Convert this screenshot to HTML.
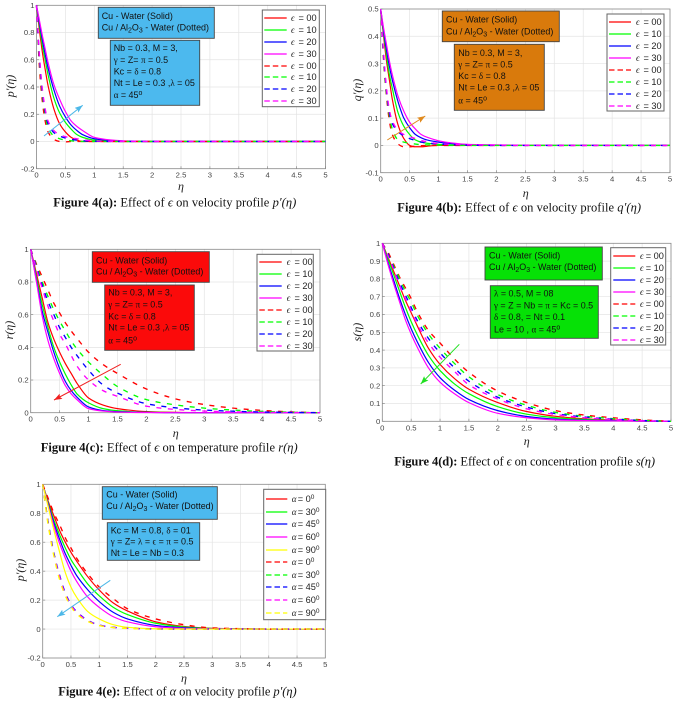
<!DOCTYPE html>
<html lang="en">
<head>
<meta charset="utf-8">
<title>Figure 4 profiles</title>
<style>
html,body{margin:0;padding:0;background:#fff;width:676px;height:702px;overflow:hidden}
svg{position:absolute;left:0;top:0;filter:blur(.35px)}
text{font-family:"Liberation Sans",sans-serif}
.box text{font-size:8.95px;fill:#111}
.box rect{stroke:#444;stroke-width:.9}
.s{font-family:"Liberation Serif",serif}
.cap{font-family:"Liberation Serif",serif;font-size:12.5px;fill:#111}
.sub{font-size:7px}
</style>
</head>
<body>
<svg xmlns="http://www.w3.org/2000/svg" width="676" height="702" viewBox="0 0 676 702">
<defs>
<marker id="ah-sky" markerWidth="9" markerHeight="7" refX="8" refY="3" orient="auto" markerUnits="userSpaceOnUse"><path d="M0 0L8 3L0 6L1.5 3Z" fill="#4db8e8"/></marker>
<marker id="ah-orange" markerWidth="9" markerHeight="7" refX="8" refY="3" orient="auto" markerUnits="userSpaceOnUse"><path d="M0 0L8 3L0 6L1.5 3Z" fill="#e08a1e"/></marker>
<marker id="ah-red" markerWidth="9" markerHeight="7" refX="8" refY="3" orient="auto" markerUnits="userSpaceOnUse"><path d="M0 0L8 3L0 6L1.5 3Z" fill="#f02020"/></marker>
<marker id="ah-green" markerWidth="9" markerHeight="7" refX="8" refY="3" orient="auto" markerUnits="userSpaceOnUse"><path d="M0 0L8 3L0 6L1.5 3Z" fill="#20e020"/></marker>
</defs>

<g id="plot-a"></g>
<g id="plot-b"></g>
<g id="plot-c"></g>
<g id="plot-d"></g>
<g id="plot-e"></g>

<!-- Panel a annotations -->
<g class="box">
<rect x="98.3" y="7.3" width="116" height="31" fill="#4cb9ee"/>
<text x="101.7" y="19">Cu - Water (Solid)</text>
<text x="101.7" y="30.7">Cu / Al<tspan class="sub" dy="2">2</tspan><tspan dy="-2">O</tspan><tspan class="sub" dy="2">3</tspan><tspan dy="-2"> - Water (Dotted)</tspan></text>
</g>
<g class="box">
<rect x="110.3" y="40.3" width="89.4" height="65" fill="#4cb9ee"/>
<text x="113.7" y="51">Nb = 0.3,  M = 3,</text>
<text x="113.7" y="63"><tspan class="s">γ</tspan> = Z= <tspan class="s">π</tspan> = 0.5</text>
<text x="113.7" y="74.7">Kc = <tspan class="s">δ</tspan> = 0.8</text>
<text x="113.7" y="86">Nt = Le = 0.3 ,<tspan class="s">λ</tspan> = 05</text>
<text x="113.7" y="98"><tspan class="s">α</tspan> = 45<tspan class="sub" dy="-3">o</tspan></text>
</g>
<line x1="44" y1="136" x2="82.7" y2="105.3" stroke="#4db8e8" stroke-width="1" marker-end="url(#ah-sky)"/>

<!-- Panel b annotations -->
<g class="box">
<rect x="442.3" y="11" width="117" height="30.7" fill="#d97a0c"/>
<text x="446" y="22.7">Cu - Water (Solid)</text>
<text x="446" y="34.3">Cu / Al<tspan class="sub" dy="2">2</tspan><tspan dy="-2">O</tspan><tspan class="sub" dy="2">3</tspan><tspan dy="-2"> - Water (Dotted)</tspan></text>
</g>
<g class="box">
<rect x="454.3" y="44.3" width="90" height="66" fill="#d97a0c"/>
<text x="458.3" y="56">Nb = 0.3,  M = 3,</text>
<text x="458.3" y="67.3"><tspan class="s">γ</tspan> = Z= <tspan class="s">π</tspan> = 0.5</text>
<text x="458.3" y="79">Kc = <tspan class="s">δ</tspan> = 0.8</text>
<text x="458.3" y="90.7">Nt = Le = 0.3 ,<tspan class="s">λ</tspan> = 05</text>
<text x="458.3" y="103.3"><tspan class="s">α</tspan> = 45<tspan class="sub" dy="-3">o</tspan></text>
</g>
<line x1="387.3" y1="140" x2="425.3" y2="116" stroke="#e08a1e" stroke-width="1" marker-end="url(#ah-orange)"/>

<!-- Panel c annotations -->
<g class="box">
<rect x="92.3" y="251.7" width="117" height="30.6" fill="#fb0a0a"/>
<text x="96" y="263.3">Cu - Water (Solid)</text>
<text x="96" y="274.3">Cu / Al<tspan class="sub" dy="2">2</tspan><tspan dy="-2">O</tspan><tspan class="sub" dy="2">3</tspan><tspan dy="-2"> - Water (Dotted)</tspan></text>
</g>
<g class="box">
<rect x="104.7" y="285" width="89.6" height="65.3" fill="#fb0a0a"/>
<text x="108.3" y="295.7">Nb = 0.3,  M = 3,</text>
<text x="108.3" y="307.7"><tspan class="s">γ</tspan> = Z= <tspan class="s">π</tspan> = 0.5</text>
<text x="108.3" y="319.3">Kc = <tspan class="s">δ</tspan> = 0.8</text>
<text x="108.3" y="330.7">Nt = Le = 0.3 ,<tspan class="s">λ</tspan> = 05</text>
<text x="108.3" y="343.3"><tspan class="s">α</tspan> = 45<tspan class="sub" dy="-3">o</tspan></text>
</g>
<line x1="120.7" y1="364.3" x2="54" y2="400" stroke="#f02020" stroke-width="1" marker-end="url(#ah-red)"/>

<!-- Panel d annotations -->
<g class="box">
<rect x="485" y="247" width="117.3" height="33" fill="#06e106"/>
<text x="489" y="258.3">Cu - Water (Solid)</text>
<text x="489" y="270">Cu / Al<tspan class="sub" dy="2">2</tspan><tspan dy="-2">O</tspan><tspan class="sub" dy="2">3</tspan><tspan dy="-2"> - Water (Dotted)</tspan></text>
</g>
<g class="box">
<rect x="490.3" y="285.7" width="108" height="52.6" fill="#06e106"/>
<text x="494" y="296.7"><tspan class="s">λ</tspan> = 0.5,  M = 08</text>
<text x="494" y="308.3"><tspan class="s">γ</tspan> = Z = Nb = <tspan class="s">π</tspan> = Kc = 0.5</text>
<text x="494" y="320"><tspan class="s">δ</tspan> = 0.8, = Nt = 0.1</text>
<text x="494" y="332.7">Le = 10 , <tspan class="s">α</tspan> = 45<tspan class="sub" dy="-3">o</tspan></text>
</g>
<line x1="459.3" y1="344.3" x2="420.7" y2="384" stroke="#20e020" stroke-width="1" marker-end="url(#ah-green)"/>

<!-- Panel e annotations -->
<g class="box">
<rect x="102.3" y="486.7" width="115" height="32.6" fill="#4cb9ee"/>
<text x="106.3" y="497.3">Cu - Water (Solid)</text>
<text x="106.3" y="509">Cu / Al<tspan class="sub" dy="2">2</tspan><tspan dy="-2">O</tspan><tspan class="sub" dy="2">3</tspan><tspan dy="-2"> - Water (Dotted)</tspan></text>
</g>
<g class="box">
<rect x="107.3" y="522.7" width="92.4" height="37.6" fill="#4cb9ee"/>
<text x="110.7" y="533.3">Kc = M = 0.8, <tspan class="s">δ</tspan> = 01</text>
<text x="110.7" y="544.7"><tspan class="s">γ</tspan> = Z= <tspan class="s">λ</tspan> = <tspan class="s">ϵ</tspan> = <tspan class="s">π</tspan> = 0.5</text>
<text x="110.7" y="556">Nt = Le = Nb = 0.3</text>
</g>
<line x1="110.3" y1="580.3" x2="57.3" y2="616.7" stroke="#4db8e8" stroke-width="1" marker-end="url(#ah-sky)"/>

<!-- Captions -->
<text class="cap" x="53.3" y="206.7" textLength="243" lengthAdjust="spacing"><tspan font-weight="bold">Figure 4(a):</tspan> Effect of <tspan font-style="italic">ϵ</tspan> on velocity profile <tspan font-style="italic">p′(η)</tspan></text>
<text class="cap" x="397.3" y="211.7" textLength="243.7" lengthAdjust="spacing"><tspan font-weight="bold">Figure 4(b):</tspan> Effect of <tspan font-style="italic">ϵ</tspan> on velocity profile <tspan font-style="italic">q′(η)</tspan></text>
<text class="cap" x="40.7" y="451.7" textLength="257" lengthAdjust="spacing"><tspan font-weight="bold">Figure 4(c):</tspan> Effect of <tspan font-style="italic">ϵ</tspan> on temperature profile <tspan font-style="italic">r(η)</tspan></text>
<text class="cap" x="394.3" y="465.7" textLength="260.7" lengthAdjust="spacing"><tspan font-weight="bold">Figure 4(d):</tspan> Effect of <tspan font-style="italic">ϵ</tspan> on concentration profile <tspan font-style="italic">s(η)</tspan></text>
<text class="cap" x="58.3" y="695.7" textLength="238.4" lengthAdjust="spacing"><tspan font-weight="bold">Figure 4(e):</tspan> Effect of <tspan font-style="italic">α</tspan> on velocity profile <tspan font-style="italic">p′(η)</tspan></text>
</svg>

<script>
// ---------- Data ----------
const xTickLabels = [0, 0.5, 1, 1.5, 2, 2.5, 3, 3.5, 4, 4.5, 5];
const yTicksA = [-0.2, 0, 0.2, 0.4, 0.6, 0.8, 1];
const yTicksB = [-0.1, 0, 0.1, 0.2, 0.3, 0.4, 0.5];
const yTicksC = [0, 0.2, 0.4, 0.6, 0.8, 1];
const yTicksD = [0, 0.1, 0.2, 0.3, 0.4, 0.5, 0.6, 0.7, 0.8, 0.9, 1];
const yTicksE = [-0.2, 0, 0.2, 0.4, 0.6, 0.8, 1];

const epsLabels = ['00', '10', '20', '30'];
const alphaLabels = ['0', '30', '45', '60', '90'];

const etaAB = [0, .05, .1, .15, .2, .3, .4, .5, .6, .7, .8, 1, 1.2, 1.5, 2, 3, 5];
const aSolid00 = [1, .82, .66, .53, .41, .24, .13, .07, .03, .01, 0, 0, 0, 0, 0, 0, 0];
const aSolid10 = [1, .85, .71, .6, .49, .32, .21, .14, .09, .05, .03, .01, .005, 0, 0, 0, 0];
const aSolid20 = [1, .87, .75, .64, .54, .38, .26, .18, .12, .08, .05, .02, .01, .003, 0, 0, 0];
const aSolid30 = [1, .89, .78, .68, .58, .42, .31, .22, .15, .11, .08, .03, .015, .005, 0, 0, 0];
const aDash00 = [1, .55, .3, .15, .07, .015, 0, -.003, 0, 0, 0, 0, 0, 0, 0, 0, 0];
const aDash10 = [1, .6, .35, .2, .1, .04, .02, .01, .005, .002, 0, 0, 0, 0, 0, 0, 0];
const aDash20 = [1, .62, .37, .22, .13, .065, .04, .025, .015, .01, .005, .002, 0, 0, 0, 0, 0];
const aDash30 = [1, .64, .39, .24, .15, .08, .05, .035, .025, .02, .012, .005, .002, 0, 0, 0, 0];

const bSolid00 = [.5, .4, .31, .24, .17, .075, .025, 0, -.005, -.005, -.003, 0, 0, 0, 0, 0, 0];
const bSolid10 = [.5, .41, .33, .26, .21, .12, .07, .04, .02, .012, .008, .004, .002, .001, 0, 0, 0];
const bSolid20 = [.5, .42, .35, .29, .24, .16, .1, .065, .04, .028, .02, .012, .007, .003, .001, 0, 0];
const bSolid30 = [.5, .43, .37, .31, .26, .18, .125, .085, .06, .04, .03, .017, .01, .004, .002, 0, 0];
const bDash00 = [.5, .31, .18, .09, .04, .005, -.005, -.005, -.003, -.001, 0, 0, 0, 0, 0, 0, 0];
const bDash10 = [.5, .32, .19, .11, .06, .02, .012, .008, .005, .003, .002, .001, 0, 0, 0, 0, 0];
const bDash20 = [.5, .33, .2, .12, .08, .05, .035, .025, .018, .012, .009, .005, .003, .001, 0, 0, 0];
const bDash30 = [.5, .34, .21, .13, .09, .055, .04, .032, .025, .018, .013, .007, .004, .002, .001, 0, 0];

const etaC = [0, .1, .2, .3, .4, .5, .6, .7, .8, 1, 1.25, 1.5, 2, 2.5, 3, 3.5, 4, 4.5, 5];
const cSolid00 = [1, .85, .7, .55, .45, .37, .3, .24, .18, .09, .047, .025, .007, .002, 0, 0, 0, 0, 0];
const cSolid10 = [1, .83, .66, .52, .4, .31, .235, .17, .115, .06, .025, .012, .003, .001, 0, 0, 0, 0, 0];
const cSolid20 = [1, .81, .62, .49, .37, .27, .19, .135, .095, .035, .013, .006, .002, 0, 0, 0, 0, 0, 0];
const cSolid30 = [1, .8, .59, .44, .33, .24, .165, .115, .08, .025, .01, .004, .001, 0, 0, 0, 0, 0, 0];
const cDash00 = [1, .91, .83, .75, .67, .61, .55, .5, .455, .37, .295, .24, .145, .085, .05, .028, .014, .005, 0];
const cDash10 = [1, .9, .8, .71, .63, .56, .5, .44, .39, .31, .23, .16, .08, .048, .028, .016, .008, .003, 0];
const cDash20 = [1, .89, .78, .68, .6, .52, .46, .4, .35, .26, .17, .12, .055, .03, .016, .009, .004, .002, 0];
const cDash30 = [1, .88, .76, .65, .56, .48, .42, .35, .285, .2, .135, .1, .04, .02, .01, .005, .002, .001, 0];

const etaD = [0, .1, .2, .3, .4, .5, .6, .8, 1, 1.25, 1.5, 2, 2.5, 3, 3.5, 4, 4.5, 5];
const dSolid00 = [1, .92, .84, .76, .68, .61, .54, .41, .32, .24, .18, .105, .055, .028, .014, .007, .002, 0];
const dSolid10 = [1, .91, .82, .73, .64, .56, .49, .37, .285, .21, .155, .082, .04, .02, .01, .004, .001, 0];
const dSolid20 = [1, .89, .79, .69, .6, .52, .45, .33, .245, .175, .122, .06, .027, .012, .006, .003, .001, 0];
const dSolid30 = [1, .88, .77, .67, .57, .49, .42, .3, .22, .155, .105, .045, .02, .008, .004, .002, .001, 0];
const dDash00 = [1, .95, .88, .81, .75, .69, .62, .51, .44, .35, .275, .17, .105, .06, .035, .02, .008, 0];
const dDash10 = [1, .94, .87, .8, .73, .67, .6, .49, .41, .325, .25, .15, .09, .05, .028, .015, .005, 0];
const dDash20 = [1, .94, .86, .78, .71, .64, .57, .465, .385, .3, .225, .135, .08, .043, .024, .012, .004, 0];
const dDash30 = [1, .93, .85, .76, .69, .62, .55, .44, .36, .28, .205, .125, .07, .038, .02, .01, .003, 0];

const etaE = [0, .1, .2, .3, .4, .5, .6, .8, 1, 1.25, 1.5, 2, 2.5, 3, 4, 5];
const eSolid0 = [1, .88, .78, .68, .6, .53, .47, .36, .27, .18, .125, .05, .018, .005, 0, 0];
const eSolid30 = [1, .87, .75, .65, .56, .48, .42, .31, .23, .15, .1, .04, .014, .004, 0, 0];
const eSolid45 = [1, .86, .73, .62, .52, .44, .37, .27, .19, .115, .07, .025, .009, .002, 0, 0];
const eSolid60 = [1, .85, .71, .59, .49, .4, .33, .22, .15, .085, .05, .016, .005, .001, 0, 0];
const eSolid90 = [1, .84, .68, .53, .39, .29, .22, .12, .07, .03, .012, .002, 0, 0, 0, 0];
const eDash0 = [1, .9, .8, .72, .63, .56, .49, .38, .29, .21, .14, .07, .03, .008, 0, 0];
const eDash30 = [1, .73, .52, .36, .245, .165, .115, .057, .026, .011, .005, 0, 0, 0, 0, 0];
const eDash45 = [1, .73, .52, .37, .25, .17, .12, .06, .028, .012, .005, .001, 0, 0, 0, 0];
const eDash60 = [1, .72, .51, .36, .24, .165, .115, .057, .026, .011, .005, .001, 0, 0, 0, 0];
const eDash90 = [1, .71, .5, .34, .23, .155, .105, .052, .024, .01, .004, 0, 0, 0, 0, 0];

const colorsEps = ['#ff0000', '#00ff00', '#0000ff', '#ff00ff'];
const colorsAlpha = ['#ff0000', '#00ff00', '#0000ff', '#ff00ff', '#ffff00'];

// ---------- Layout ----------
const panels = [
  { id: 'a', box: [36.5, 325.5, 5.3, 168.7], yMin: -0.2, yMax: 1, yTicks: yTicksA, eta: etaAB,
    solid: [aSolid00, aSolid10, aSolid20, aSolid30], dash: [aDash00, aDash10, aDash20, aDash30],
    colors: colorsEps, yLabel: 'p′(η)', yLab: [14, 86], xLab: [181, 190],
    legend: { x: 262.3, y: 10, w: 57, h: 96.7, first: 17.7, step: 11.95, lineX: [264.3, 286.7], symX: 291, eqX: 298.5 }, labels: epsLabels, sym: 'ϵ' },
  { id: 'b', box: [380.7, 670, 9, 172.7], yMin: -0.1, yMax: 0.5, yTicks: yTicksB, eta: etaAB,
    solid: [bSolid00, bSolid10, bSolid20, bSolid30], dash: [bDash00, bDash10, bDash20, bDash30],
    colors: colorsEps, yLabel: 'q′(η)', yLab: [361, 90], xLab: [525.7, 197],
    legend: { x: 607, y: 14, w: 57, h: 97, first: 21.7, step: 12, lineX: [609, 631], symX: 636, eqX: 643.5 }, labels: epsLabels, sym: 'ϵ' },
  { id: 'c', box: [30.7, 320, 249.3, 412.7], yMin: 0, yMax: 1, yTicks: yTicksC, eta: etaC,
    solid: [cSolid00, cSolid10, cSolid20, cSolid30], dash: [cDash00, cDash10, cDash20, cDash30],
    colors: colorsEps, yLabel: 'r(η)', yLab: [13, 330], xLab: [175.7, 437],
    legend: { x: 257, y: 254.3, w: 56.3, h: 96.7, first: 262.3, step: 11.9, lineX: [259.3, 281.7], symX: 286.7, eqX: 294.5 }, labels: epsLabels, sym: 'ϵ' },
  { id: 'd', box: [382.3, 671, 243.3, 421.3], yMin: 0, yMax: 1, yTicks: yTicksD, eta: etaD,
    solid: [dSolid00, dSolid10, dSolid20, dSolid30], dash: [dDash00, dDash10, dDash20, dDash30],
    colors: colorsEps, yLabel: 's(η)', yLab: [361, 332], xLab: [526.7, 445],
    legend: { x: 610.7, y: 247.7, w: 55, h: 97.3, first: 256, step: 11.95, lineX: [613.3, 635.3], symX: 640, eqX: 645.7 }, labels: epsLabels, sym: 'ϵ' },
  { id: 'e', box: [42.7, 325.3, 484.3, 658], yMin: -0.2, yMax: 1, yTicks: yTicksE, eta: etaE,
    solid: [eSolid0, eSolid30, eSolid45, eSolid60, eSolid90], dash: [eDash0, eDash30, eDash45, eDash60, eDash90],
    colors: colorsAlpha, yLabel: 'p′(η)', yLab: [24, 570], xLab: [184, 682],
    legend: { x: 263.7, y: 489.3, w: 62, h: 130.4, first: 499, step: 12.63, lineX: [266, 287.3], symX: 291.7, eqX: 297.7 }, labels: alphaLabels, sym: 'α' }
];

// ---------- Drawing ----------
const NS = 'http://www.w3.org/2000/svg';
function mk(parent, tag, attrs, text) {
  const el = document.createElementNS(NS, tag);
  for (const k in attrs) el.setAttribute(k, attrs[k]);
  if (text !== undefined) el.textContent = text;
  parent.appendChild(el);
  return el;
}
function tag(el, name) {
  
  
  return el;
}
function curvePath(xs, ys) {
  const n = xs.length, d = [], m = new Array(n).fill(0);
  for (let i = 0; i < n - 1; i++) d[i] = (ys[i + 1] - ys[i]) / (xs[i + 1] - xs[i]);
  m[0] = d[0]; m[n - 1] = d[n - 2];
  for (let i = 1; i < n - 1; i++) m[i] = d[i - 1] * d[i] <= 0 ? 0 : 2 * d[i - 1] * d[i] / (d[i - 1] + d[i]);
  let p = 'M' + xs[0].toFixed(2) + ' ' + ys[0].toFixed(2);
  for (let i = 0; i < n - 1; i++) {
    const h = (xs[i + 1] - xs[i]) / 3;
    p += 'C' + (xs[i] + h).toFixed(2) + ' ' + (ys[i] + m[i] * h).toFixed(2) + ' ' +
         (xs[i + 1] - h).toFixed(2) + ' ' + (ys[i + 1] - m[i + 1] * h).toFixed(2) + ' ' +
         xs[i + 1].toFixed(2) + ' ' + ys[i + 1].toFixed(2);
  }
  return p;
}
panels.forEach(function (P) {
  const g = document.getElementById('plot-' + P.id);
  const x0 = P.box[0], x1 = P.box[1], yT = P.box[2], yB = P.box[3];
  const X = function (v) { return x0 + (v - 0) / 5 * (x1 - x0); };
  const Y = function (v) { return yB - (v - P.yMin) / (P.yMax - P.yMin) * (yB - yT); };

  tag(mk(g, 'rect', { x: x0, y: yT, width: x1 - x0, height: yB - yT, fill: '#fff' }), P.id + '-plot-area');

  xTickLabels.forEach(function (t) {
    const px = X(t);
    if (t > 0 && t < 5) tag(mk(g, 'line', { x1: px, x2: px, y1: yT, y2: yB, stroke: '#e4e4e4', 'stroke-width': .7 }), P.id + '-x-gridline');
    tag(mk(g, 'line', { x1: px, x2: px, y1: yB, y2: yB - 2.5, stroke: '#777', 'stroke-width': .6 }), P.id + '-x-tick');
    tag(mk(g, 'text', { x: px, y: yB + 9, 'text-anchor': 'middle', 'font-size': 7.7, fill: '#444' }, String(t)), P.id + '-x-tick-label');
  });
  P.yTicks.forEach(function (t) {
    const py = Y(t);
    if (t > P.yMin && t < P.yMax) tag(mk(g, 'line', { x1: x0, x2: x1, y1: py, y2: py, stroke: '#e4e4e4', 'stroke-width': .7 }), P.id + '-y-gridline');
    tag(mk(g, 'line', { x1: x0, x2: x0 + 2.5, y1: py, y2: py, stroke: '#777', 'stroke-width': .6 }), P.id + '-y-tick');
    tag(mk(g, 'text', { x: x0 - 2, y: py + 2.7, 'text-anchor': 'end', 'font-size': 7.7, fill: '#444' }, String(t)), P.id + '-y-tick-label');
  });
  tag(mk(g, 'rect', { x: x0, y: yT, width: x1 - x0, height: yB - yT, fill: 'none', stroke: '#888', 'stroke-width': .8 }), P.id + '-axes-frame');

  const xs = P.eta.map(X);
  P.solid.forEach(function (vals, i) {
    tag(mk(g, 'path', { d: curvePath(xs, vals.map(Y)), fill: 'none', stroke: P.colors[i], 'stroke-width': 1.2 }), P.id + '-solid-curve-' + P.labels[i]);
  });
  P.dash.forEach(function (vals, i) {
    tag(mk(g, 'path', { d: curvePath(xs, vals.map(Y)), fill: 'none', stroke: P.colors[i], 'stroke-width': 1.35, 'stroke-dasharray': '5 6.5' }), P.id + '-dashed-curve-' + P.labels[i]);
  });

  const L = P.legend;
  tag(mk(g, 'rect', { x: L.x, y: L.y, width: L.w, height: L.h, fill: '#fff', stroke: '#666', 'stroke-width': 1 }), P.id + '-legend-box');
  const rows = P.labels.length * 2;
  for (let r = 0; r < rows; r++) {
    const i = r % P.labels.length, isDash = r >= P.labels.length, cy = Math.round(L.first + r * L.step);
    const attrs = { x1: L.lineX[0], x2: L.lineX[1], y1: cy, y2: cy, stroke: P.colors[i], 'stroke-width': 1.2 };
    if (isDash) attrs['stroke-dasharray'] = '5.5 3';
    tag(mk(g, 'line', attrs), P.id + '-legend-line-' + P.labels[i]);
    tag(mk(g, 'text', { x: L.symX, y: cy + 2.8, 'font-size': 9, fill: '#222', class: 's', 'font-style': 'italic' }, P.sym), P.id + '-legend-symbol');
    const lab = tag(mk(g, 'text', { x: L.eqX, y: cy + 3.2, 'font-size': 9.2, fill: '#222' }, '= ' + P.labels[i]), P.id + '-legend-label');
    if (P.sym === 'α') mk(lab, 'tspan', { dy: -3, 'font-size': 6.5 }, '0');
  }

  const yl = tag(mk(g, 'text', { x: 0, y: 0, 'text-anchor': 'middle', 'font-size': 12, 'font-style': 'italic', fill: '#222', class: 's',
    transform: 'translate(' + P.yLab[0] + ' ' + P.yLab[1] + ') rotate(-90)' }, P.yLabel), P.id + '-y-axis-title');
  yl.setAttribute('style', 'font-family:"Liberation Serif",serif');
  const xl = tag(mk(g, 'text', { x: P.xLab[0], y: P.xLab[1], 'text-anchor': 'middle', 'font-size': 12, 'font-style': 'italic', fill: '#222', class: 's' }, 'η'), P.id + '-x-axis-title');
  xl.setAttribute('style', 'font-family:"Liberation Serif",serif');
});
</script>
</body>
</html>
